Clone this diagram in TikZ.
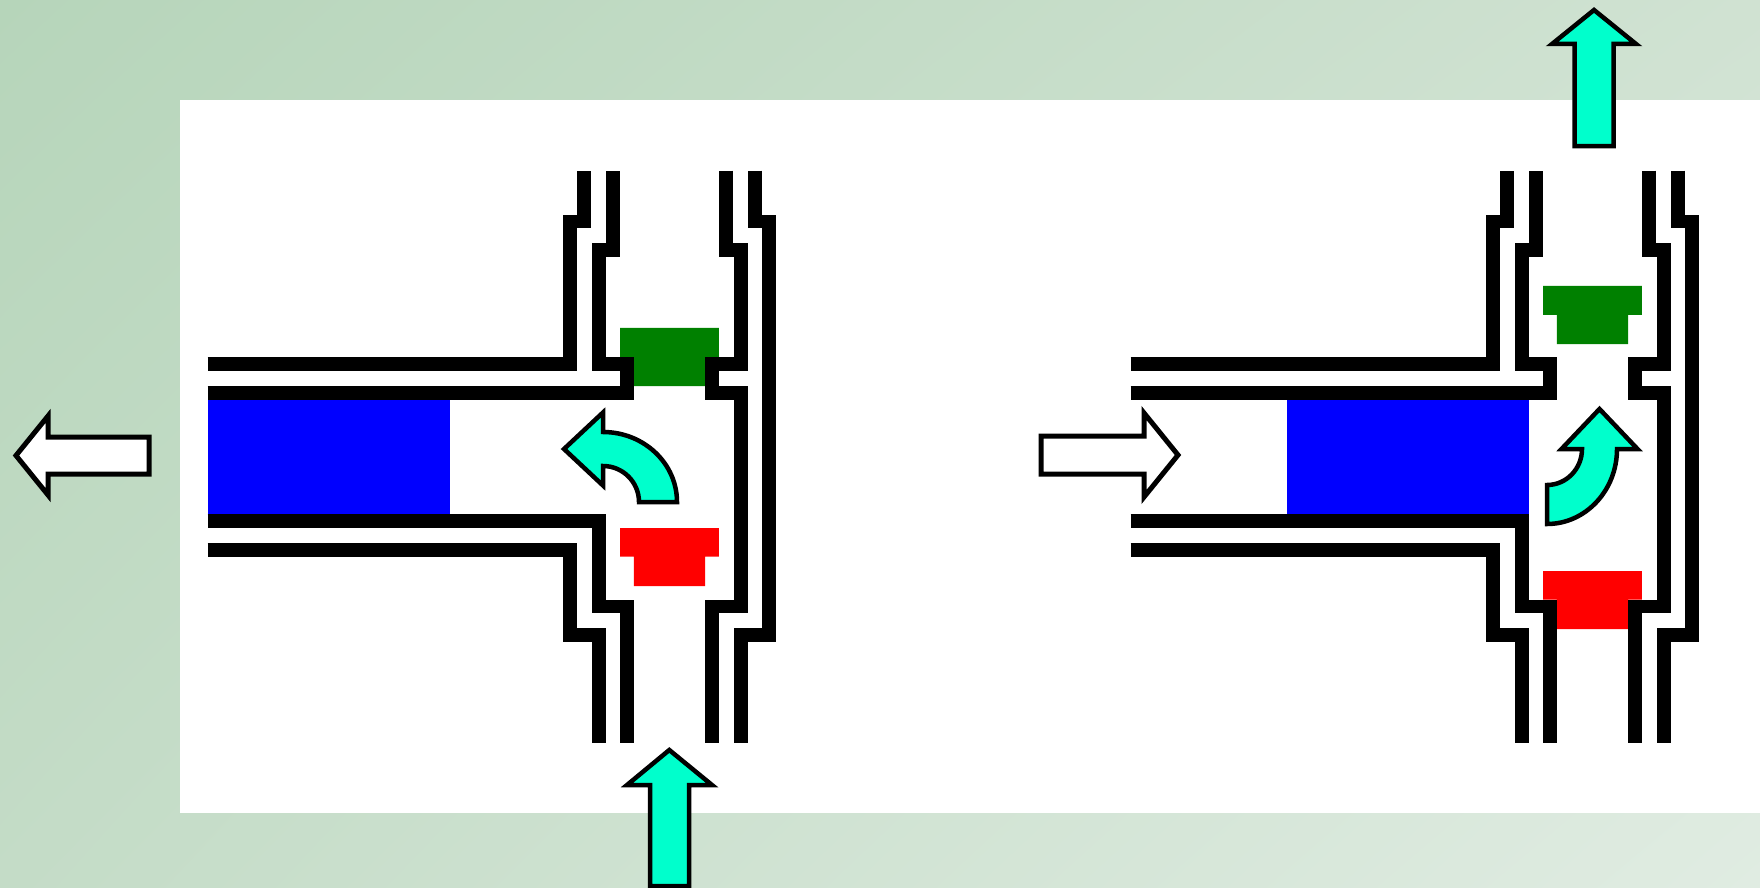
\documentclass[tikz,border=0pt]{standalone}
\usepackage{tikz}
\usetikzlibrary{shadings}

\definecolor{colBgA}{RGB}{182,213,186}
\definecolor{colBgB}{RGB}{208,226,210}
\definecolor{colBgC}{RGB}{196,220,199}
\definecolor{colBgD}{RGB}{224,236,226}
\definecolor{colPiston}{RGB}{0,0,255}
\definecolor{colOut}{RGB}{0,128,0}
\definecolor{colIn}{RGB}{255,0,0}
\definecolor{colFlow}{RGB}{0,255,204}

\tikzset{
    wall/.style={line width=13.8pt, line join=miter, line cap=butt},
    flowarrow/.style={draw=black, line width=4.5pt, fill=colFlow, line join=miter},
    movearrow/.style={draw=black, line width=5pt, fill=white, line join=miter}
}

\begin{document}
\begin{tikzpicture}[x=1pt, y=-1pt]
    \useasboundingbox (0,0) rectangle (1760,888);

    % --- Background ---
    \shade[upper left=colBgA, upper right=colBgB, lower left=colBgC, lower right=colBgD]
        (0,0) rectangle (1760,888);
    \fill[white] (180,100) rectangle (1760,813);

    % --- Two pump stages: shift / piston start / outlet lift / inlet drop ---
    \foreach \dx/\px/\gy/\ry in {0/207.7/0/0, 923/364/42/-43} {
      \begin{scope}[xshift=\dx pt]
        % Piston
        \fill[colPiston] (\px,399.9) rectangle ++(242.4,114.3);
        % Outlet valve (green)
        \fill[colOut, yshift=\gy pt] (620.1,327.9) -- (718.9,327.9) -- (718.9,356.8) -- (705.1,356.8)
            -- (705.1,386.1) -- (633.9,386.1) -- (633.9,356.8) -- (620.1,356.8) -- cycle;
        % Inlet valve (red)
        \fill[colIn, yshift=\ry pt] (620.1,528) -- (718.9,528) -- (718.9,556.5) -- (705.1,556.5)
            -- (705.1,586.1) -- (633.9,586.1) -- (633.9,556.5) -- (620.1,556.5) -- cycle;

        % Housing walls
        \draw[wall] (207.7,363.7) -- (569.85,363.7) -- (569.85,221.4) -- (584.3,221.4) -- (584.3,170.6);
        \draw[wall] (207.7,393) -- (627,393) -- (627,363.7) -- (598.7,363.7) -- (598.7,249.85)
            -- (613,249.85) -- (613,170.6);
        \draw[wall] (726.25,170.6) -- (726.25,249.85) -- (740.7,249.85) -- (740.7,363.7) -- (712,363.7)
            -- (712,393) -- (740.7,393) -- (740.7,606.5) -- (712,606.5) -- (712,743.1);
        \draw[wall] (754.9,170.6) -- (754.9,221.4) -- (768.95,221.4) -- (768.95,635.35)
            -- (740.7,635.35) -- (740.7,743.1);
        \draw[wall] (207.7,521.1) -- (598.7,521.1) -- (598.7,606.5) -- (627,606.5) -- (627,743.1);
        \draw[wall] (207.7,549.75) -- (569.85,549.75) -- (569.85,635.35) -- (598.7,635.35) -- (598.7,743.1);
      \end{scope}
    }

    % --- Piston motion ---
    \draw[movearrow] (149,437) -- (149,474) -- (48,474) -- (48,495) -- (16,455.5)
        -- (48,416) -- (48,437) -- cycle;
    \draw[movearrow] (1041,436) -- (1144,436) -- (1144,413) -- (1178,455) -- (1144,497)
        -- (1144,474) -- (1041,474) -- cycle;

    % --- Fluid flow ---
    \draw[flowarrow] (650,886) -- (650,785) -- (627,785) -- (669.3,750) -- (712,785)
        -- (689,785) -- (689,886) -- cycle;
    \draw[flowarrow] (677,502) arc[start angle=0, end angle=-90, x radius=74, y radius=70]
        -- (603,412.5) -- (564,449) -- (603,485.5) -- (603,466)
        arc[start angle=-90, end angle=0, x radius=36, y radius=36] -- cycle;
    \draw[flowarrow] (1547,524) arc[start angle=90, end angle=0, x radius=70, y radius=75]
        -- (1637.5,449) -- (1599.5,409) -- (1561.5,449) -- (1582,449)
        arc[start angle=0, end angle=90, x radius=35, y radius=36] -- cycle;
    \draw[flowarrow] (1574.5,146) -- (1574.5,44) -- (1552,44) -- (1594,10) -- (1636,44)
        -- (1613.5,44) -- (1613.5,146) -- cycle;
\end{tikzpicture}
\end{document}
